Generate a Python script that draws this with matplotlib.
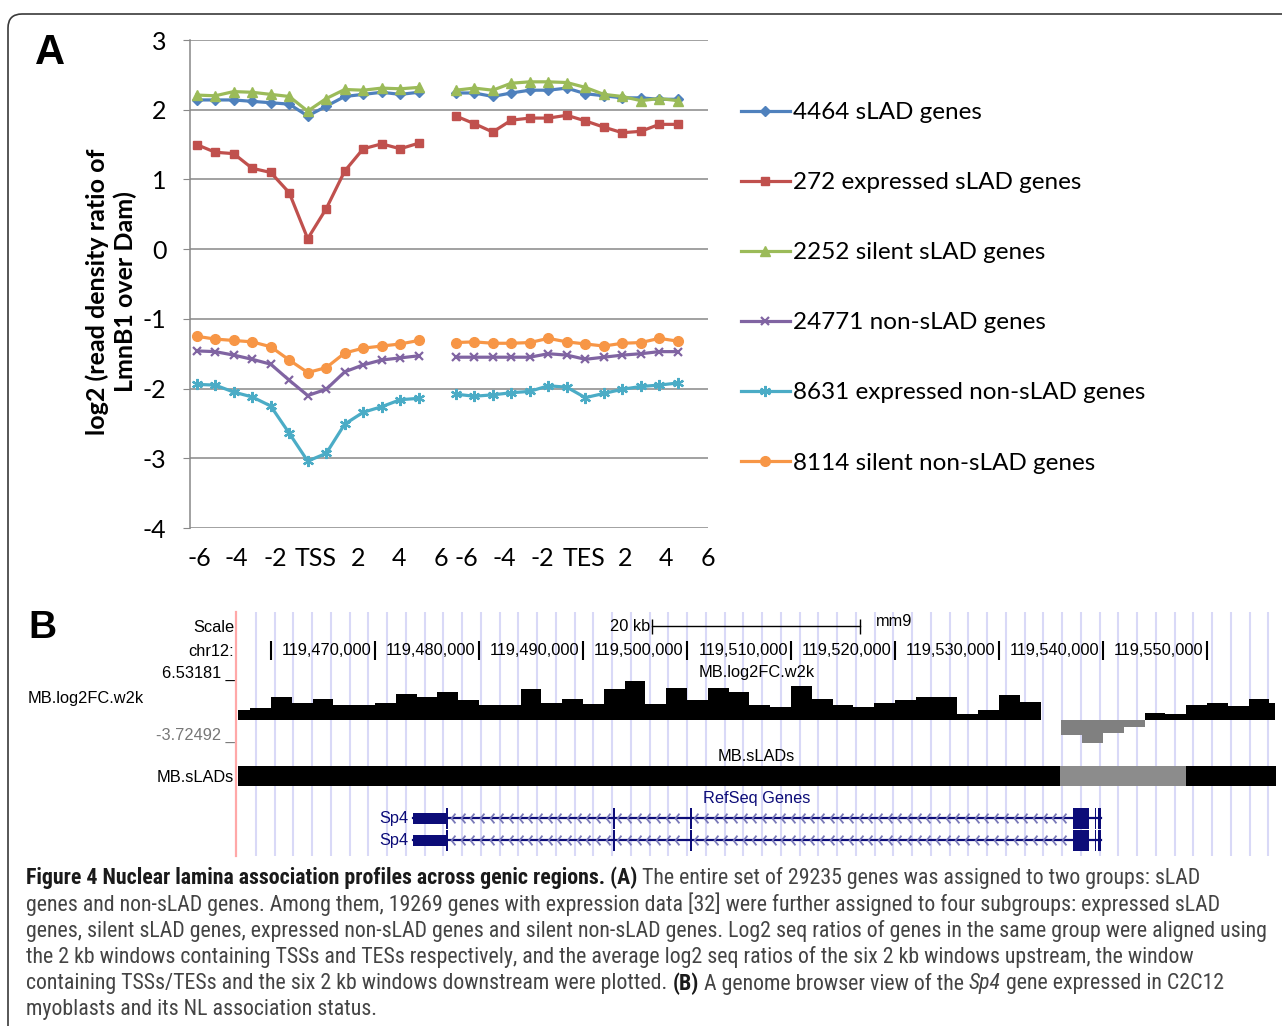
import numpy as np
import matplotlib
matplotlib.use('Agg')
import matplotlib.pyplot as plt
from matplotlib import font_manager
from matplotlib.patches import FancyBboxPatch, Rectangle
from matplotlib.path import Path
from matplotlib.transforms import IdentityTransform
from matplotlib.lines import Line2D

plt.rcParams['axes.unicode_minus'] = False

W, H = 1282, 1026

# ---------------- panel A data (log2 LmnB1/Dam) ----------------
tick_labels = ['-6', '-4', '-2', 'TSS', '2', '4', '6', '-6', '-4', '-2', 'TES', '2', '4', '6']
series_names = ['4464 sLAD genes', '272 expressed sLAD genes', '2252 silent sLAD genes',
                '24771 non-sLAD genes', '8631 expressed non-sLAD genes', '8114 silent non-sLAD genes']
tss_slad = [2.14, 2.14, 2.14, 2.12, 2.10, 2.08, 1.91, 2.05, 2.19, 2.22, 2.25, 2.22, 2.25]
tss_expr_slad = [1.50, 1.39, 1.37, 1.16, 1.10, 0.81, 0.15, 0.58, 1.12, 1.44, 1.51, 1.44, 1.52]
tss_sil_slad = [2.21, 2.20, 2.26, 2.25, 2.22, 2.19, 1.98, 2.16, 2.29, 2.28, 2.31, 2.30, 2.32]
tss_nonslad = [-1.46, -1.47, -1.52, -1.58, -1.65, -1.88, -2.10, -2.01, -1.76, -1.66, -1.59, -1.56, -1.53]
tss_expr_non = [-1.94, -1.95, -2.05, -2.12, -2.25, -2.64, -3.04, -2.93, -2.51, -2.34, -2.26, -2.16, -2.14]
tss_sil_non = [-1.25, -1.29, -1.31, -1.33, -1.40, -1.59, -1.77, -1.70, -1.49, -1.42, -1.39, -1.36, -1.31]

tes_slad = [2.24, 2.24, 2.19, 2.24, 2.28, 2.28, 2.31, 2.23, 2.20, 2.17, 2.17, 2.15, 2.15]
tes_expr_slad = [1.91, 1.80, 1.68, 1.85, 1.88, 1.88, 1.92, 1.84, 1.75, 1.67, 1.69, 1.79, 1.79]
tes_sil_slad = [2.28, 2.31, 2.28, 2.38, 2.40, 2.40, 2.39, 2.32, 2.22, 2.19, 2.13, 2.16, 2.13]
tes_nonslad = [-1.55, -1.55, -1.55, -1.55, -1.55, -1.50, -1.52, -1.58, -1.55, -1.52, -1.50, -1.47, -1.47]
tes_expr_non = [-2.08, -2.11, -2.09, -2.06, -2.04, -1.96, -1.98, -2.13, -2.07, -2.01, -1.97, -1.95, -1.92]
tes_sil_non = [-1.34, -1.33, -1.35, -1.35, -1.34, -1.28, -1.33, -1.36, -1.39, -1.35, -1.34, -1.28, -1.32]

colors = ['#4F81BD', '#C0504D', '#9BBB59', '#8064A2', '#4BACC6', '#F79646']
markers = ['D', 's', '^', 'x', (6, 2, 0), 'o']
msizes = [5, 6, 7, 6, 8, 7]

# ---------------- panel B data (UCSC view, chr12, kb) ----------------
win_start = 119456.0          # first 2 kb window
win_size = 2.0
log2fc = [1.70, 1.98, 3.84, 2.85, 3.51, 2.52, 2.52, 2.85, 4.33, 3.84,
          4.66, 3.34, 2.52, 2.52, 5.10, 2.90, 3.46, 2.63, 5.10, 6.47,
          2.63, 5.27, 3.34, 5.27, 4.61, 2.45, 2.24, 5.65, 3.51, 2.52,
          2.24, 2.85, 3.34, 3.84, 3.84, 1.04, 1.70, 4.17, 3.00, 0.05,
          -2.42, -3.72, -2.14, -1.05, 1.26, 1.04, 2.52, 2.85, 2.35, 3.46, 2.90]
view_kb = (119456.83, 119556.54)
coord_ticks = [119460, 119470, 119480, 119490, 119500, 119510, 119520, 119530, 119540, 119550]
slad_starts = [119440.0, 119535.9, 119548.0]
slad_ends = [119535.9, 119548.0, 119570.0]
slad_in = [True, False, True]
gene_span = (119473.65, 119539.85)
utr_blocks = [(119473.65, 119476.8)]
cds_blocks = [(119476.8, 119477.05), (119492.85, 119493.05), (119500.25, 119500.45),
              (119537.1, 119538.65), (119539.2, 119539.35), (119539.55, 119539.85)]

caption = [
    [("Figure 4 Nuclear lamina association profiles across genic regions. (A)", 'bold', 'normal'),
     ("The entire set of 29235 genes was assigned to two groups: sLAD", 'normal', 'normal')],
    [("genes and non-sLAD genes. Among them, 19269 genes with expression data [32] were further assigned to four subgroups: expressed sLAD", 'normal', 'normal')],
    [("genes, silent sLAD genes, expressed non-sLAD genes and silent non-sLAD genes. Log2 seq ratios of genes in the same group were aligned using", 'normal', 'normal')],
    [("the 2 kb windows containing TSSs and TESs respectively, and the average log2 seq ratios of the six 2 kb windows upstream, the window", 'normal', 'normal')],
    [("containing TSSs/TESs and the six 2 kb windows downstream were plotted.", 'normal', 'normal'),
     ("(B)", 'bold', 'normal'), ("A genome browser view of the", 'normal', 'normal'),
     ("Sp4", 'normal', 'italic'), ("gene expressed in C2C12", 'normal', 'normal')],
    [("myoblasts and its NL association status.", 'normal', 'normal')],
]


def fx(px):
    return px / W


def fy(py):
    return 1 - py / H


def rect(x0, y0, x1, y1):
    return [fx(x0), fy(y1), fx(x1) - fx(x0), fy(y0) - fy(y1)]


def px2kb(px):
    return 119470 + (px - 375) / 10.4


fig = plt.figure(figsize=(W / 100, H / 100), dpi=100)
fig.patch.set_facecolor('white')

# outer rounded frame
frame = FancyBboxPatch((8, -30), 1320, 1026 - 14 + 30, boxstyle="round,pad=0,rounding_size=14",
                       transform=IdentityTransform(), fill=False, edgecolor='#3a3a3a', lw=1.2)
fig.add_artist(frame)

# ================= Panel A =================
axA = fig.add_axes(rect(190, 40, 708, 528))
x_all = np.arange(27)
tss_sets = [tss_slad, tss_expr_slad, tss_sil_slad, tss_nonslad, tss_expr_non, tss_sil_non]
tes_sets = [tes_slad, tes_expr_slad, tes_sil_slad, tes_nonslad, tes_expr_non, tes_sil_non]
for name, a, b, c, m, ms in zip(series_names, tss_sets, tes_sets, colors, markers, msizes):
    y = np.array(list(a) + [np.nan] + list(b))
    axA.plot(x_all, y, color=c, lw=2.3, marker=m, ms=ms, mec=c, mfc=c,
             mew=1.6 if m in ('x', (6, 2, 0)) else 1, label=name, zorder=3)

axA.set_xlim(-0.36, 27.4)
axA.set_ylim(-4, 3)
axA.set_yticks(range(-4, 4))
axA.grid(axis='y', color='#888888', lw=1.1)
axA.set_axisbelow(True)
for s in ['top', 'right', 'bottom']:
    axA.spines[s].set_visible(False)
axA.spines['left'].set_color('#888888')
axA.spines['left'].set_linewidth(1.1)
axA.tick_params(axis='y', length=5, color='#888888', pad=12, labelsize=18)
label_px = [199, 237, 276, 317, 359, 401, 443, 468, 507, 545, 587, 628, 670, 712]
axA.set_xticks([(p - 196.7) / 18.65 for p in label_px])
axA.set_xticklabels(tick_labels)
axA.tick_params(axis='x', length=0, pad=14, labelsize=18)
for t in axA.get_xticklabels() + axA.get_yticklabels():
    t.set_family('Lato')

leg = axA.legend(loc='upper left', bbox_to_anchor=(fx(741), fy(102)), bbox_transform=fig.transFigure,
                 frameon=False, prop={'family': 'Lato', 'size': 17.5}, handlelength=2.0,
                 handletextpad=0.12, labelspacing=2.02, borderpad=0, borderaxespad=0)

fig.text(fx(111), fy(292), 'log2 (read density ratio of\nLmnB1 over Dam)', rotation=90,
         ha='center', va='center', family='Lato', weight='bold', fontsize=18, linespacing=1.25)
fig.text(fx(35), fy(33), 'A', family='Liberation Sans', weight='bold', fontsize=30, ha='left', va='top')

# ================= Panel B =================
fig.text(fx(28), fy(610), 'B', family='Liberation Sans', weight='bold', fontsize=28, ha='left', va='top')
fig.add_artist(Line2D([fx(236), fx(236)], [fy(612), fy(856)], color='#FFA8A8', lw=1.6))

axB = fig.add_axes(rect(238, 612, 1275, 858))
axB.set_xlim(*view_kb)
axB.set_ylim(858, 612)
axB.axis('off')

# guide lines
guide_px = 237.25 + 18.75 * np.arange(1, 56)
axB.vlines([px2kb(p) for p in guide_px], 612, 856, color='#D9D9F7', lw=1.5, zorder=0)

bfont = dict(family='Liberation Sans', fontsize=11.8)
navy = '#0C0C78'

# scale bar
axB.plot([px2kb(652), px2kb(652) + 20], [626, 626], color='black', lw=1)
axB.vlines([px2kb(652), px2kb(652) + 20], 619, 634, color='black', lw=1)
axB.text(px2kb(650), 627, '20 kb', ha='right', va='center', **bfont)
axB.text(px2kb(876), 622, 'mm9', ha='left', va='center', **bfont)

# coordinate ruler
axB.vlines(coord_ticks, 641, 660, color='black', lw=1.5)
for t in coord_ticks[1:]:
    axB.text(t - 0.3, 651, f'{t * 1000:,}', ha='right', va='center', **bfont)

# left labels
fig.text(fx(234), fy(628), 'Scale', ha='right', va='center', **bfont)
fig.text(fx(234), fy(651), 'chr12:', ha='right', va='center', **bfont)
fig.text(fx(235), fy(673), '6.53181 _', ha='right', va='center', **bfont)
fig.text(fx(28), fy(698), 'MB.log2FC.w2k', ha='left', va='center', **bfont)
fig.text(fx(235), fy(735), '-3.72492 _', ha='right', va='center', color='#777777', **bfont)
fig.text(fx(234), fy(777), 'MB.sLADs', ha='right', va='center', **bfont)

axB.text(np.mean(view_kb), 673, 'MB.log2FC.w2k', ha='center', va='center', **bfont)
axB.text(np.mean(view_kb), 757, 'MB.sLADs', ha='center', va='center', **bfont)
axB.text(np.mean(view_kb), 799, 'RefSeq Genes', ha='center', va='center', color=navy, **bfont)

# signal track
axS = fig.add_axes(rect(238, 680.7, 1275, 743))
axS.patch.set_visible(False)
axS.set_xlim(*view_kb)
axS.set_ylim(-3.72492, 6.53181)
axS.axis('off')
win_left = win_start + win_size * np.arange(len(log2fc))
vals = np.array(log2fc)
axS.bar(win_left, vals, width=win_size, align='edge',
        color=np.where(vals >= 0, 'black', '#808080'), lw=0)

# sLAD track
for s0, s1, inside in zip(slad_starts, slad_ends, slad_in):
    axB.broken_barh([(s0, s1 - s0)], (766, 20), color='black' if inside else '#8C8C8C', lw=0)

# RefSeq gene models (two Sp4 transcripts, minus strand)
chevron = Path([(0.4, 1), (-0.4, 0), (0.4, -1)], [Path.MOVETO, Path.LINETO, Path.LINETO])
for yc in (818.5, 840.5):
    axB.text(px2kb(408), yc, 'Sp4', ha='right', va='center', color=navy, **bfont)
    axB.plot(gene_span, [yc, yc], color=navy, lw=1.6, zorder=3)
    intron_pts = []
    for (a0, a1), (b0, b1) in zip(cds_blocks[:-1], cds_blocks[1:]):
        pts = np.arange(a1 + 0.45, b0 - 0.3, 0.93)
        intron_pts.extend(pts)
    axB.plot(intron_pts, [yc] * len(intron_pts), ls='none', marker=chevron, ms=7,
             mfc='none', mec='#7878B8', mew=1.3, zorder=4)
    for u0, u1 in utr_blocks:
        axB.add_patch(Rectangle((u0, yc - 5.5), u1 - u0, 11, color=navy, lw=0, zorder=5))
    for c0, c1 in cds_blocks:
        axB.add_patch(Rectangle((c0, yc - 10.5), c1 - c0, 21, color=navy, lw=0, zorder=5))

# ================= caption =================
names = {f.name for f in font_manager.fontManager.ttflist}
cap_family = 'Lato'
for cand in ['Liberation Sans Narrow', 'Roboto Condensed', 'Open Sans Condensed']:
    if cand in names:
        cap_family = cand
        break
renderer = fig.canvas.get_renderer()


def text_width(s, size, weight='normal', style='normal'):
    t = fig.text(0.1, 0.5, s, family=cap_family, fontsize=size, weight=weight, style=style)
    w = t.get_window_extent(renderer).width
    t.remove()
    return w


# fit the longest caption line (line 3) to its width in the reference
cap_size = 14 * 1240 / text_width(caption[2][0][0], 14)
cap_size *= 1240 / text_width(caption[2][0][0], cap_size)
space = text_width('x x', cap_size) - text_width('xx', cap_size)
line_y = [878, 904, 931, 957, 984, 1010]
for segs, yy in zip(caption, line_y):
    xpos = 26
    for txt, wgt, sty in segs:
        col = '#1a1a1a' if wgt == 'bold' else '#444444'
        t = fig.text(fx(xpos), fy(yy), txt, family=cap_family, fontsize=cap_size, weight=wgt,
                     style=sty, color=col, ha='left', va='center')
        xpos += t.get_window_extent(renderer).width + space

fig.savefig('out.png', dpi=100)
